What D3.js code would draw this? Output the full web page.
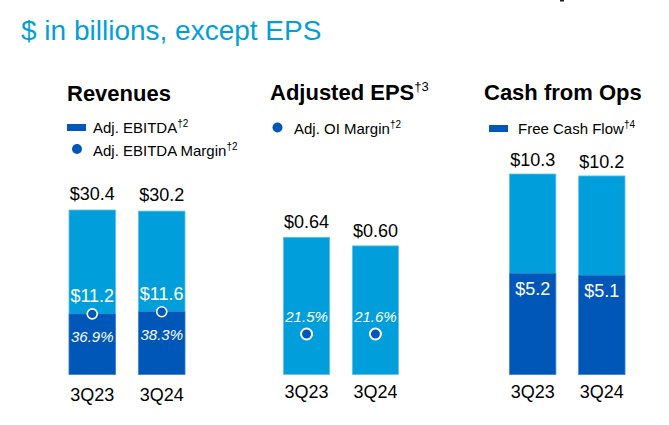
<!DOCTYPE html>
<html><head><meta charset="utf-8">
<script src="https://cdn.jsdelivr.net/npm/d3@7"></script>
<style>
html,body{margin:0;padding:0;background:#fff;}
svg{display:block;font-family:"Liberation Sans",Arial,sans-serif;}
</style></head>
<body><svg id="c" width="669" height="425"></svg>
<script>
const categories = ["3Q23", "3Q24"];
const revenues = [30.4, 30.2];
const adjEbitda = [11.2, 11.6];
const ebitdaMargin = [36.9, 38.3];
const adjEps = [0.64, 0.60];
const oiMargin = [21.5, 21.6];
const cashFromOps = [10.3, 10.2];
const freeCashFlow = [5.2, 5.1];

const LIGHT = "#009fdb", DARK = "#0057b8", TXT = "#000";
const svg = d3.select("#c");
const base = 374.5;

// cut-off fragment of the slide title above
svg.append("rect").attr("x", 560).attr("y", 0).attr("width", 4).attr("height", 1.5).attr("fill", "#222");

svg.append("text").attr("x", 21).attr("y", 40).attr("font-size", 28)
  .attr("fill", LIGHT).text("$ in billions, except EPS");

function title(x, y, t, sup) {
  const el = svg.append("text").attr("x", x).attr("y", y).attr("font-size", 22)
    .attr("font-weight", "bold").attr("fill", TXT).text(t);
  if (sup) el.append("tspan").attr("font-size", 13).attr("font-weight", "normal").attr("dy", -9).text(sup);
}
function legendText(x, y, t, sup) {
  const el = svg.append("text").attr("x", x).attr("y", y).attr("font-size", 15).attr("fill", TXT).text(t);
  if (sup) el.append("tspan").attr("font-size", 10).attr("dy", -6).text(sup);
}

// ---------- Revenues ----------
title(67, 101, "Revenues");
svg.append("rect").attr("x", 67).attr("y", 124).attr("width", 19).attr("height", 7).attr("fill", DARK);
legendText(93, 133, "Adj. EBITDA", "†2");
svg.append("circle").attr("cx", 77).attr("cy", 149).attr("r", 5).attr("fill", DARK);
legendText(93, 155.5, "Adj. EBITDA Margin", "†2");

function panel(x0, x1, topVal, topY) {
  const x = d3.scaleBand().domain(categories).range([x0, x1]).paddingInner(0.33).paddingOuter(0);
  const y = d3.scaleLinear().domain([0, topVal]).range([base, topY]);
  return {x, y, g: svg.append("g")};
}

{
  const {x, y, g} = panel(69, 185, revenues[0], 210);
  const d = categories.map((c, i) => ({c, tot: revenues[i], part: adjEbitda[i], m: ebitdaMargin[i]}));
  g.selectAll(".t").data(d).join("rect").attr("x", v => x(v.c)).attr("width", x.bandwidth())
    .attr("y", v => y(v.tot)).attr("height", v => y(0) - y(v.tot)).attr("fill", LIGHT)
    .attr("stroke", "#5fc0ea").attr("stroke-width", 0.8);
  g.selectAll(".p").data(d).join("rect").attr("x", v => x(v.c)).attr("width", x.bandwidth())
    .attr("y", v => y(v.part)).attr("height", v => y(0) - y(v.part)).attr("fill", DARK)
    .attr("stroke", "#4f86cf").attr("stroke-width", 0.6);
  const cx = v => x(v.c) + x.bandwidth() / 2;
  g.selectAll(".lt").data(d).join("text").attr("x", cx).attr("y", v => y(v.tot) - 10)
    .attr("text-anchor", "middle").attr("font-size", 18).attr("fill", TXT).text(v => "$" + v.tot.toFixed(1));
  g.selectAll(".lp").data(d).join("text").attr("x", cx).attr("y", v => y(v.part) - 11.5)
    .attr("text-anchor", "middle").attr("font-size", 18).attr("fill", "#fff").text(v => "$" + v.part.toFixed(1));
  g.selectAll("circle").data(d).join("circle").attr("cx", cx).attr("cy", v => y(v.part)).attr("r", 5)
    .attr("fill", DARK).attr("stroke", "#fff").attr("stroke-width", 1.6);
  g.selectAll(".lm").data(d).join("text").attr("x", cx).attr("y", v => y(v.part) + 28)
    .attr("text-anchor", "middle").attr("font-size", 15).attr("font-style", "italic").attr("fill", "#fff")
    .text(v => v.m.toFixed(1) + "%");
  g.selectAll(".lc").data(d).join("text").attr("x", cx).attr("y", 400.5)
    .attr("text-anchor", "middle").attr("font-size", 18).attr("fill", TXT).text(v => v.c);
}

// ---------- Adjusted EPS ----------
title(270, 99.5, "Adjusted EPS", "†3");
svg.append("circle").attr("cx", 277.5).attr("cy", 127.5).attr("r", 5).attr("fill", DARK);
legendText(294, 133.5, "Adj. OI Margin", "†2");
{
  const {x, y, g} = panel(283.5, 398.5, adjEps[0], 237.3);
  const m = d3.scaleLinear().domain([0, 21.5]).range([base, 334]);
  const d = categories.map((c, i) => ({c, v: adjEps[i], m: oiMargin[i]}));
  const cx = v => x(v.c) + x.bandwidth() / 2;
  g.selectAll("rect").data(d).join("rect").attr("x", v => x(v.c)).attr("width", x.bandwidth())
    .attr("y", v => y(v.v)).attr("height", v => y(0) - y(v.v)).attr("fill", LIGHT)
    .attr("stroke", "#5fc0ea").attr("stroke-width", 0.8);
  g.selectAll(".lt").data(d).join("text").attr("x", cx).attr("y", v => y(v.v) - 9)
    .attr("text-anchor", "middle").attr("font-size", 18).attr("fill", TXT).text(v => "$" + v.v.toFixed(2));
  g.selectAll("circle").data(d).join("circle").attr("cx", cx).attr("cy", v => m(oiMargin[0])).attr("r", 5.5)
    .attr("fill", DARK).attr("stroke", "#fff").attr("stroke-width", 2);
  g.selectAll(".lm").data(d).join("text").attr("x", cx).attr("y", v => m(oiMargin[0]) - 12.5)
    .attr("text-anchor", "middle").attr("font-size", 15).attr("font-style", "italic").attr("fill", "#fff")
    .text(v => v.m.toFixed(1) + "%");
  g.selectAll(".lc").data(d).join("text").attr("x", cx).attr("y", 397.5)
    .attr("text-anchor", "middle").attr("font-size", 18).attr("fill", TXT).text(v => v.c);
}

// ---------- Cash from Ops ----------
title(484, 100, "Cash from Ops");
svg.append("rect").attr("x", 489).attr("y", 125).attr("width", 19).attr("height", 7).attr("fill", DARK);
legendText(518, 133.5, "Free Cash Flow", "†4");
{
  const {x, y, g} = panel(509.5, 625, cashFromOps[0], 174);
  const d = categories.map((c, i) => ({c, tot: cashFromOps[i], part: freeCashFlow[i]}));
  const cx = v => x(v.c) + x.bandwidth() / 2;
  g.selectAll(".t").data(d).join("rect").attr("x", v => x(v.c)).attr("width", x.bandwidth())
    .attr("y", v => y(v.tot)).attr("height", v => y(0) - y(v.tot)).attr("fill", LIGHT)
    .attr("stroke", "#5fc0ea").attr("stroke-width", 0.8);
  g.selectAll(".p").data(d).join("rect").attr("x", v => x(v.c)).attr("width", x.bandwidth())
    .attr("y", v => y(v.part)).attr("height", v => y(0) - y(v.part)).attr("fill", DARK)
    .attr("stroke", "#4f86cf").attr("stroke-width", 0.6);
  g.selectAll(".lt").data(d).join("text").attr("x", cx).attr("y", v => y(v.tot) - 8)
    .attr("text-anchor", "middle").attr("font-size", 18).attr("fill", TXT).text(v => "$" + v.tot.toFixed(1));
  g.selectAll(".lp").data(d).join("text").attr("x", cx).attr("y", v => y(v.part) + 22)
    .attr("text-anchor", "middle").attr("font-size", 18).attr("fill", "#fff").text(v => "$" + v.part.toFixed(1));
  g.selectAll(".lc").data(d).join("text").attr("x", cx).attr("y", 397.5)
    .attr("text-anchor", "middle").attr("font-size", 18).attr("fill", TXT).text(v => v.c);
}
</script></body></html>
